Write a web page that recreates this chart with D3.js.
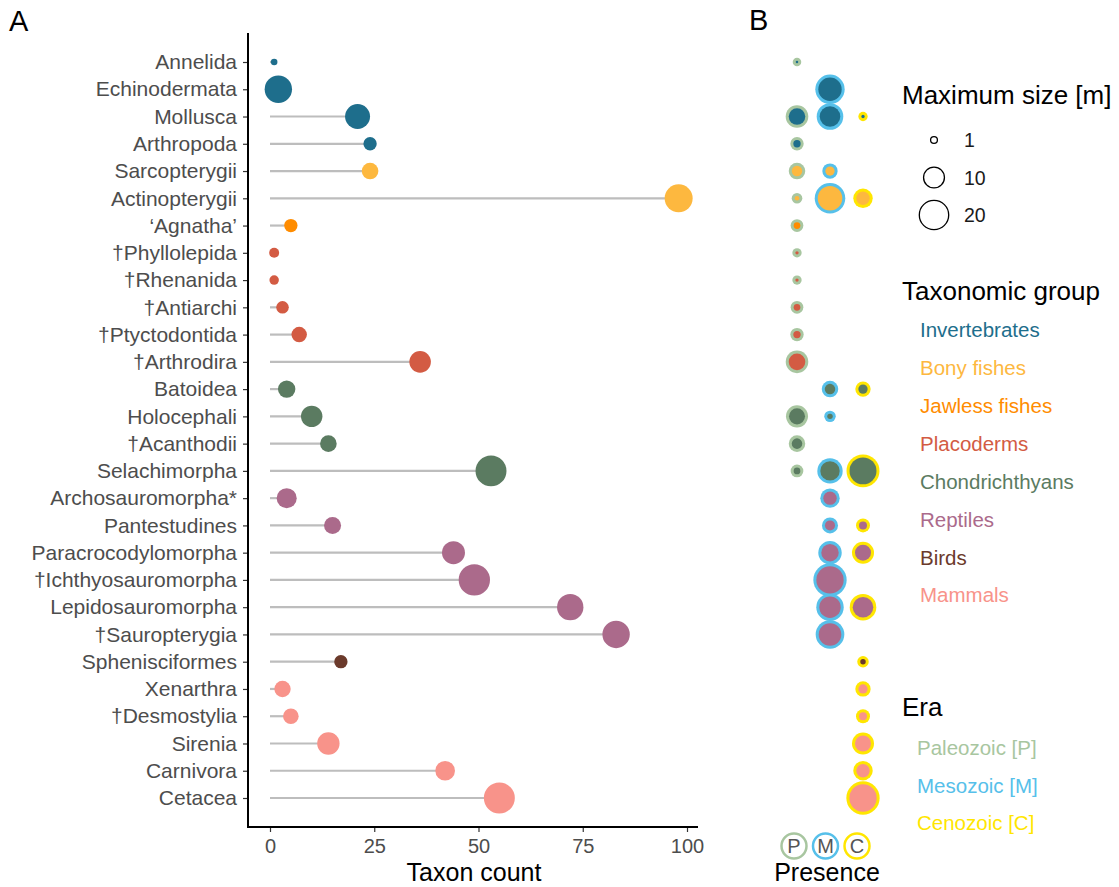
<!DOCTYPE html>
<html>
<head>
<meta charset="utf-8">
<script src="https://cdn.jsdelivr.net/npm/d3@7/dist/d3.min.js"></script>
<style>
  html, body { margin: 0; padding: 0; background: #fff; }
  svg { display: block; font-family: "Liberation Sans", Arial, Helvetica, sans-serif; }
</style>
</head>
<body>
<svg id="chart" width="1119" height="887"></svg>
<script>
// ---------------- DATA ----------------
const categories = ["Annelida","Echinodermata","Mollusca","Arthropoda","Sarcopterygii","Actinopterygii",
  "\u2018Agnatha\u2019","\u2020Phyllolepida","\u2020Rhenanida","\u2020Antiarchi","\u2020Ptyctodontida","\u2020Arthrodira",
  "Batoidea","Holocephali","\u2020Acanthodii","Selachimorpha","Archosauromorpha*","Pantestudines",
  "Paracrocodylomorpha","\u2020Ichthyosauromorpha","Lepidosauromorpha","\u2020Sauropterygia","Sphenisciformes",
  "Xenarthra","\u2020Desmostylia","Sirenia","Carnivora","Cetacea"];
const groupOf = ["Invertebrates","Invertebrates","Invertebrates","Invertebrates","Bony fishes","Bony fishes",
  "Jawless fishes","Placoderms","Placoderms","Placoderms","Placoderms","Placoderms",
  "Chondrichthyans","Chondrichthyans","Chondrichthyans","Chondrichthyans","Reptiles","Reptiles",
  "Reptiles","Reptiles","Reptiles","Reptiles","Birds",
  "Mammals","Mammals","Mammals","Mammals","Mammals"];
const taxonCount = [1,2,21,24,24,98,5,1,1,3,7,36,4,10,14,53,4,15,44,49,72,83,17,3,5,14,42,55];
const maxSize = [0.6,15.8,13,3.3,5.4,16.6,3.3,1.7,1.5,2.9,4.6,9.5,6,9.4,5.4,20.5,8.1,5.7,10.9,21,14.6,15.8,3.3,5.2,4.7,10.3,7.8,20.5];
const sizePaleozoic = [0.6,null,8.6,2.3,4,1.2,2,0.8,0.8,2,2.3,8.6,null,8.1,4,2,null,null,null,null,null,null,null,null,null,null,null,null];
const sizeMesozoic  = [null,15.8,12.6,null,3.3,17.3,null,null,null,null,null,null,4,1.5,null,11.3,6,3.7,9.4,21,13.5,14.9,null,null,null,null,null,null];
const sizeCenozoic  = [null,null,0.8,null,null,6,null,null,null,null,null,null,3.3,null,null,20.5,null,2.6,8.1,null,12.6,null,1.5,3.3,2.6,8.1,6,21];
const xTicks = [0,25,50,75,100];
const groups = ["Invertebrates","Bony fishes","Jawless fishes","Placoderms","Chondrichthyans","Reptiles","Birds","Mammals"];
const groupColors = ["#1e6e8c","#fdb83f","#ff8c00","#d35b43","#5b7b61","#ab6a8b","#6b3a2b","#f8938a"];
const eras = ["Paleozoic [P]","Mesozoic [M]","Cenozoic [C]"];
const eraKeys = ["P","M","C"];
const eraColors = ["#a8c6a0","#56c0ea","#ffe600"];
const sizeLegend = [1,10,20];

// ---------------- SCALES ----------------
const svg = d3.select("#chart");
const x = d3.scaleLinear().domain([0,100]).range([270,687]);
const y = d3.scalePoint().domain(categories).range([62,798]);
const r = d3.scaleSqrt().domain([0,20]).range([0.75,15.3]);
const color = d3.scaleOrdinal().domain(groups).range(groupColors);
const eraColor = d3.scaleOrdinal().domain(eraKeys).range(eraColors);
const xB = d3.scalePoint().domain(eraKeys).range([797,863]);

const rows = categories.map((c,i)=>({cat:c, group:groupOf[i], n:taxonCount[i], size:maxSize[i],
  P:sizePaleozoic[i], M:sizeMesozoic[i], C:sizeCenozoic[i]}));

// Panel labels
svg.append("text").attr("x",9).attr("y",31).attr("font-size",29).attr("fill","#000").text("A");
svg.append("text").attr("x",749).attr("y",30).attr("font-size",29).attr("fill","#000").text("B");

// ---------------- PANEL A ----------------
const gA = svg.append("g");
gA.selectAll("line.seg").data(rows).join("line")
  .attr("x1",x(0)).attr("x2",d=>x(d.n))
  .attr("y1",d=>y(d.cat)).attr("y2",d=>y(d.cat))
  .attr("stroke","#bdbdbd").attr("stroke-width",2.2);
gA.selectAll("circle.pt").data(rows).join("circle")
  .attr("cx",d=>x(d.n)).attr("cy",d=>y(d.cat)).attr("r",d=>r(d.size))
  .attr("fill",d=>color(d.group));

// axes
const axisY = 827, axisLeft = 248;
const xAxis = d3.axisBottom(x).tickValues(xTicks).tickSize(5).tickPadding(3).tickFormat(d3.format("d"));
const gx = svg.append("g").attr("transform",`translate(0,${axisY})`).call(xAxis);
gx.select(".domain").remove();
gx.selectAll(".tick line").attr("stroke","#333").attr("stroke-width",1.2);
gx.selectAll(".tick text").attr("font-size",20).attr("fill","#4d4d4d")
  .attr("font-family","Liberation Sans, Arial, sans-serif").attr("dy","0.9em");
svg.append("line").attr("x1",axisLeft).attr("x2",698).attr("y1",axisY).attr("y2",axisY)
  .attr("stroke","#000").attr("stroke-width",2);

const yAxis = d3.axisLeft(y).tickSize(5).tickPadding(6);
const gy = svg.append("g").attr("transform",`translate(${axisLeft},0)`).call(yAxis);
gy.select(".domain").remove();
gy.selectAll(".tick line").attr("stroke","#333").attr("stroke-width",1.2);
gy.selectAll(".tick text").attr("font-size",21).attr("fill","#4d4d4d")
  .attr("font-family","Liberation Sans, Arial, sans-serif");
svg.append("line").attr("x1",axisLeft).attr("x2",axisLeft).attr("y1",33).attr("y2",axisY+1)
  .attr("stroke","#000").attr("stroke-width",2);

svg.append("text").attr("x",474).attr("y",881).attr("text-anchor","middle")
  .attr("font-size",25).attr("fill","#000").text("Taxon count");

// ---------------- PANEL B ----------------
const bData = [];
rows.forEach(d=>eraKeys.forEach(e=>{ if(d[e]!=null) bData.push({cat:d.cat, group:d.group, era:e, size:d[e]}); }));
const gB = svg.append("g");
gB.selectAll("circle.outer").data(bData).join("circle")
  .attr("cx",d=>xB(d.era)).attr("cy",d=>y(d.cat)).attr("r",d=>r(d.size)+1)
  .attr("fill",d=>eraColor(d.era));
gB.selectAll("circle.inner").data(bData).join("circle")
  .attr("cx",d=>xB(d.era)).attr("cy",d=>y(d.cat)).attr("r",d=>Math.max(r(d.size)-2,1.2))
  .attr("fill",d=>color(d.group));

// presence key at bottom
const keyX = d3.scalePoint().domain(eraKeys).range([794,857]);
const gK = svg.append("g");
gK.selectAll("circle").data(eraKeys).join("circle")
  .attr("cx",d=>keyX(d)).attr("cy",846).attr("r",12.5)
  .attr("fill","#fff").attr("stroke",d=>eraColor(d)).attr("stroke-width",2.5);
gK.selectAll("text").data(eraKeys).join("text")
  .attr("x",d=>keyX(d)).attr("y",846).attr("dy","0.36em").attr("text-anchor","middle")
  .attr("font-size",20).attr("fill","#555").text(d=>d);
svg.append("text").attr("x",827).attr("y",881).attr("text-anchor","middle")
  .attr("font-size",25).attr("fill","#000").text("Presence");

// ---------------- LEGENDS ----------------
const lx = 902;
svg.append("text").attr("x",lx).attr("y",104).attr("font-size",26).attr("fill","#000").text("Maximum size [m]");
const sizeY = d3.scalePoint().domain(sizeLegend).range([140,215]);
const gS = svg.append("g");
gS.selectAll("circle").data(sizeLegend).join("circle")
  .attr("cx",934).attr("cy",d=>sizeY(d)).attr("r",d=>r(d)-0.6)
  .attr("fill","none").attr("stroke","#000").attr("stroke-width",1.3);
gS.selectAll("text").data(sizeLegend).join("text")
  .attr("x",964).attr("y",d=>sizeY(d)).attr("dy","0.36em")
  .attr("font-size",19.5).attr("fill","#1a1a1a").text(d=>d);

svg.append("text").attr("x",lx).attr("y",300).attr("font-size",26).attr("fill","#000").text("Taxonomic group");
const gY = d3.scalePoint().domain(groups).range([330,595]);
svg.append("g").selectAll("text").data(groups).join("text")
  .attr("x",920).attr("y",d=>gY(d)).attr("dy","0.36em")
  .attr("font-size",20.5).attr("fill",d=>color(d)).text(d=>d);

svg.append("text").attr("x",lx).attr("y",716).attr("font-size",26).attr("fill","#000").text("Era");
const eY = d3.scalePoint().domain(eras).range([748,823]);
svg.append("g").selectAll("text").data(eras).join("text")
  .attr("x",917).attr("y",d=>eY(d)).attr("dy","0.36em")
  .attr("font-size",20.5).attr("fill",(d,i)=>eraColors[i]).text(d=>d);
</script>
</body>
</html>
